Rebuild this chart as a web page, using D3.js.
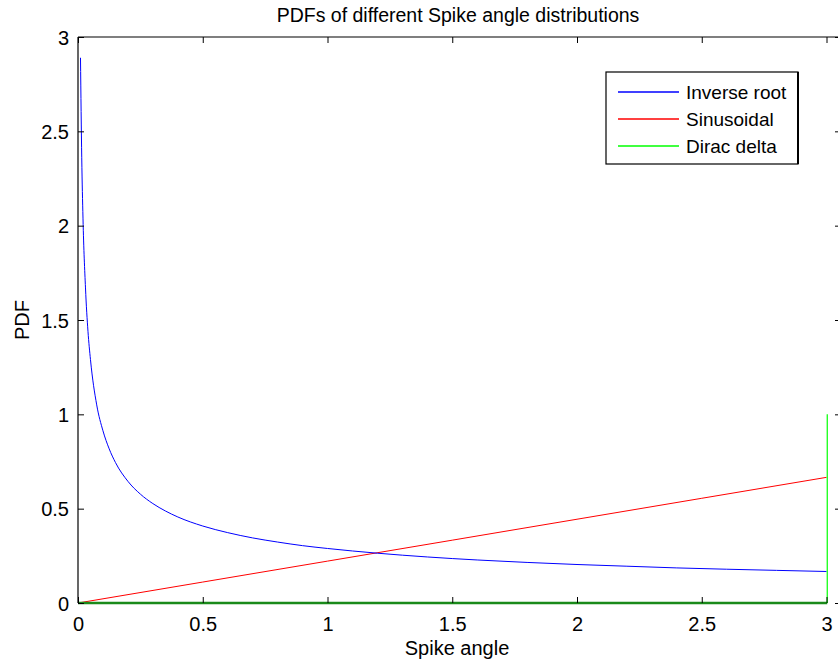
<!DOCTYPE html>
<html>
<head>
<meta charset="utf-8">
<script src="https://cdn.jsdelivr.net/npm/d3@7"></script>
<style>
  body { margin: 0; background: #fff; }
  text { font-family: "Liberation Sans", Arial, sans-serif; fill: #000; }
</style>
</head>
<body>
<div id="plot"></div>
<script>
// values
var invRootX = [0.01, 0.015, 0.02, 0.03, 0.04, 0.05, 0.075, 0.1, 0.125, 0.15, 0.2, 0.25, 0.3, 0.35, 0.4, 0.5, 0.6, 0.7, 0.8, 0.9, 1.0, 1.2, 1.4, 1.6, 1.8, 2.0, 2.2, 2.4, 2.6, 2.8, 3.0];
var invRootY = [2.89, 2.36, 2.04, 1.67, 1.44, 1.29, 1.05, 0.913, 0.817, 0.745, 0.645, 0.577, 0.527, 0.488, 0.456, 0.408, 0.373, 0.345, 0.323, 0.304, 0.289, 0.264, 0.244, 0.228, 0.215, 0.204, 0.195, 0.186, 0.179, 0.173, 0.167];
var sinX = [0, 0.5, 1.0, 1.5, 2.0, 2.5, 3.0];
var sinY = [0, 0.111, 0.222, 0.333, 0.444, 0.555, 0.666];
var diracX = [0, 3.003, 3.003];
var diracY = [0, 0, 1];
var xTicks = [0, 0.5, 1, 1.5, 2, 2.5, 3];
var yTicks = [0, 0.5, 1, 1.5, 2, 2.5, 3];
var legendNames = ["Inverse root", "Sinusoidal", "Dirac delta"];
var legendColors = ["#0000ff", "#ff0000", "#00ff00"];

const width = 838, height = 661;
const margin = {top: 37, right: -3, bottom: 58, left: 78};
const w = width - margin.left - margin.right,
      h = height - margin.top - margin.bottom;

const svg = d3.select("#plot").append("svg")
    .attr("width", width)
    .attr("height", height);

const x = d3.scaleLinear().domain([0, 3]).range([0, 748.5]);
const y = d3.scaleLinear().domain([0, 3]).range([h, 0]);

const g = svg.append("g")
    .attr("transform", `translate(${margin.left},${margin.top})`);

// lines
const line = d3.line().x(d => x(d[0])).y(d => y(d[1]));
function pairs(xs, ys) { return xs.map((v, i) => [v, ys[i]]); }

g.append("path").datum(pairs(sinX, sinY))
    .attr("d", line).attr("fill", "none").attr("stroke", "#ff0000").attr("stroke-width", 1);
g.append("path").datum(pairs(invRootX, invRootY))
    .attr("d", d3.line().curve(d3.curveMonotoneX).x(d => x(d[0])).y(d => y(d[1])))
    .attr("fill", "none").attr("stroke", "#0000ff").attr("stroke-width", 1);

// axes box
g.append("line").attr("x1", 0).attr("x2", w).attr("y1", 0).attr("y2", 0)
    .attr("stroke", "#000").attr("stroke-width", 1.2);
g.append("line").attr("x1", 0).attr("x2", 0).attr("y1", 0).attr("y2", h)
    .attr("stroke", "#000").attr("stroke-width", 1.2);
g.append("line").attr("x1", w).attr("x2", w).attr("y1", 0).attr("y2", h)
    .attr("stroke", "#000").attr("stroke-width", 1.2);

// dirac delta (green, on top of x axis)
g.append("path").datum(pairs(diracX.slice(0, 2), diracY.slice(0, 2)))
    .attr("d", line).attr("fill", "none").attr("stroke", "#1a8a1a").attr("stroke-width", 2.5);
g.append("path").datum(pairs(diracX.slice(1), diracY.slice(1)))
    .attr("d", line).attr("fill", "none").attr("stroke", "#00ff00").attr("stroke-width", 1.2);

// ticks (inward, all four sides)
const tl = 6;
const xAxisB = g.append("g").attr("transform", `translate(0,${h})`)
    .call(d3.axisBottom(x).tickValues(xTicks).tickSize(-tl).tickPadding(tl + 8).tickFormat(d3.format("")));
const xAxisT = g.append("g")
    .call(d3.axisTop(x).tickValues(xTicks).tickSize(-tl).tickFormat(""));
const yAxisL = g.append("g")
    .call(d3.axisLeft(y).tickValues(yTicks).tickSize(-tl).tickPadding(tl + 3).tickFormat(d3.format("")));
const yAxisR = g.append("g").attr("transform", `translate(${w},0)`)
    .call(d3.axisRight(y).tickValues(yTicks).tickSize(-tl).tickFormat(""));
[xAxisB, xAxisT, yAxisL, yAxisR].forEach(a => {
    a.select(".domain").remove();
    a.selectAll("line").attr("stroke", "#000");
    a.selectAll("text").style("font-family", "Liberation Sans, Arial, sans-serif")
        .style("font-size", "20px").attr("fill", "#000");
});
yAxisL.selectAll("text").attr("dy", "0.35em");

// title and labels
svg.append("text").attr("x", 458).attr("y", 22).attr("text-anchor", "middle")
    .style("font-size", "19.5px").text("PDFs of different Spike angle distributions");
svg.append("text").attr("x", 457).attr("y", 655).attr("text-anchor", "middle")
    .style("font-size", "20px").text("Spike angle");
svg.append("text").attr("transform", "translate(29,320) rotate(-90)").attr("text-anchor", "middle")
    .style("font-size", "20px").text("PDF");

// legend
const lg = svg.append("g").attr("transform", "translate(606,72)");
lg.append("rect").attr("width", 192).attr("height", 92)
    .attr("fill", "#fff").attr("stroke", "#000").attr("stroke-width", 1.2);
lg.append("line").attr("x1", 192).attr("x2", 192).attr("y1", 0).attr("y2", 92)
    .attr("stroke", "#000").attr("stroke-width", 2);
legendNames.forEach((name, i) => {
    const ly = 20 + Math.round(i * 27);
    lg.append("line").attr("x1", 12).attr("x2", 73).attr("y1", ly).attr("y2", ly)
        .attr("stroke", legendColors[i]).attr("stroke-width", 1.4);
    lg.append("text").attr("x", 80).attr("y", ly + 7).style("font-size", "19px").text(name);
});
</script>
</body>
</html>
